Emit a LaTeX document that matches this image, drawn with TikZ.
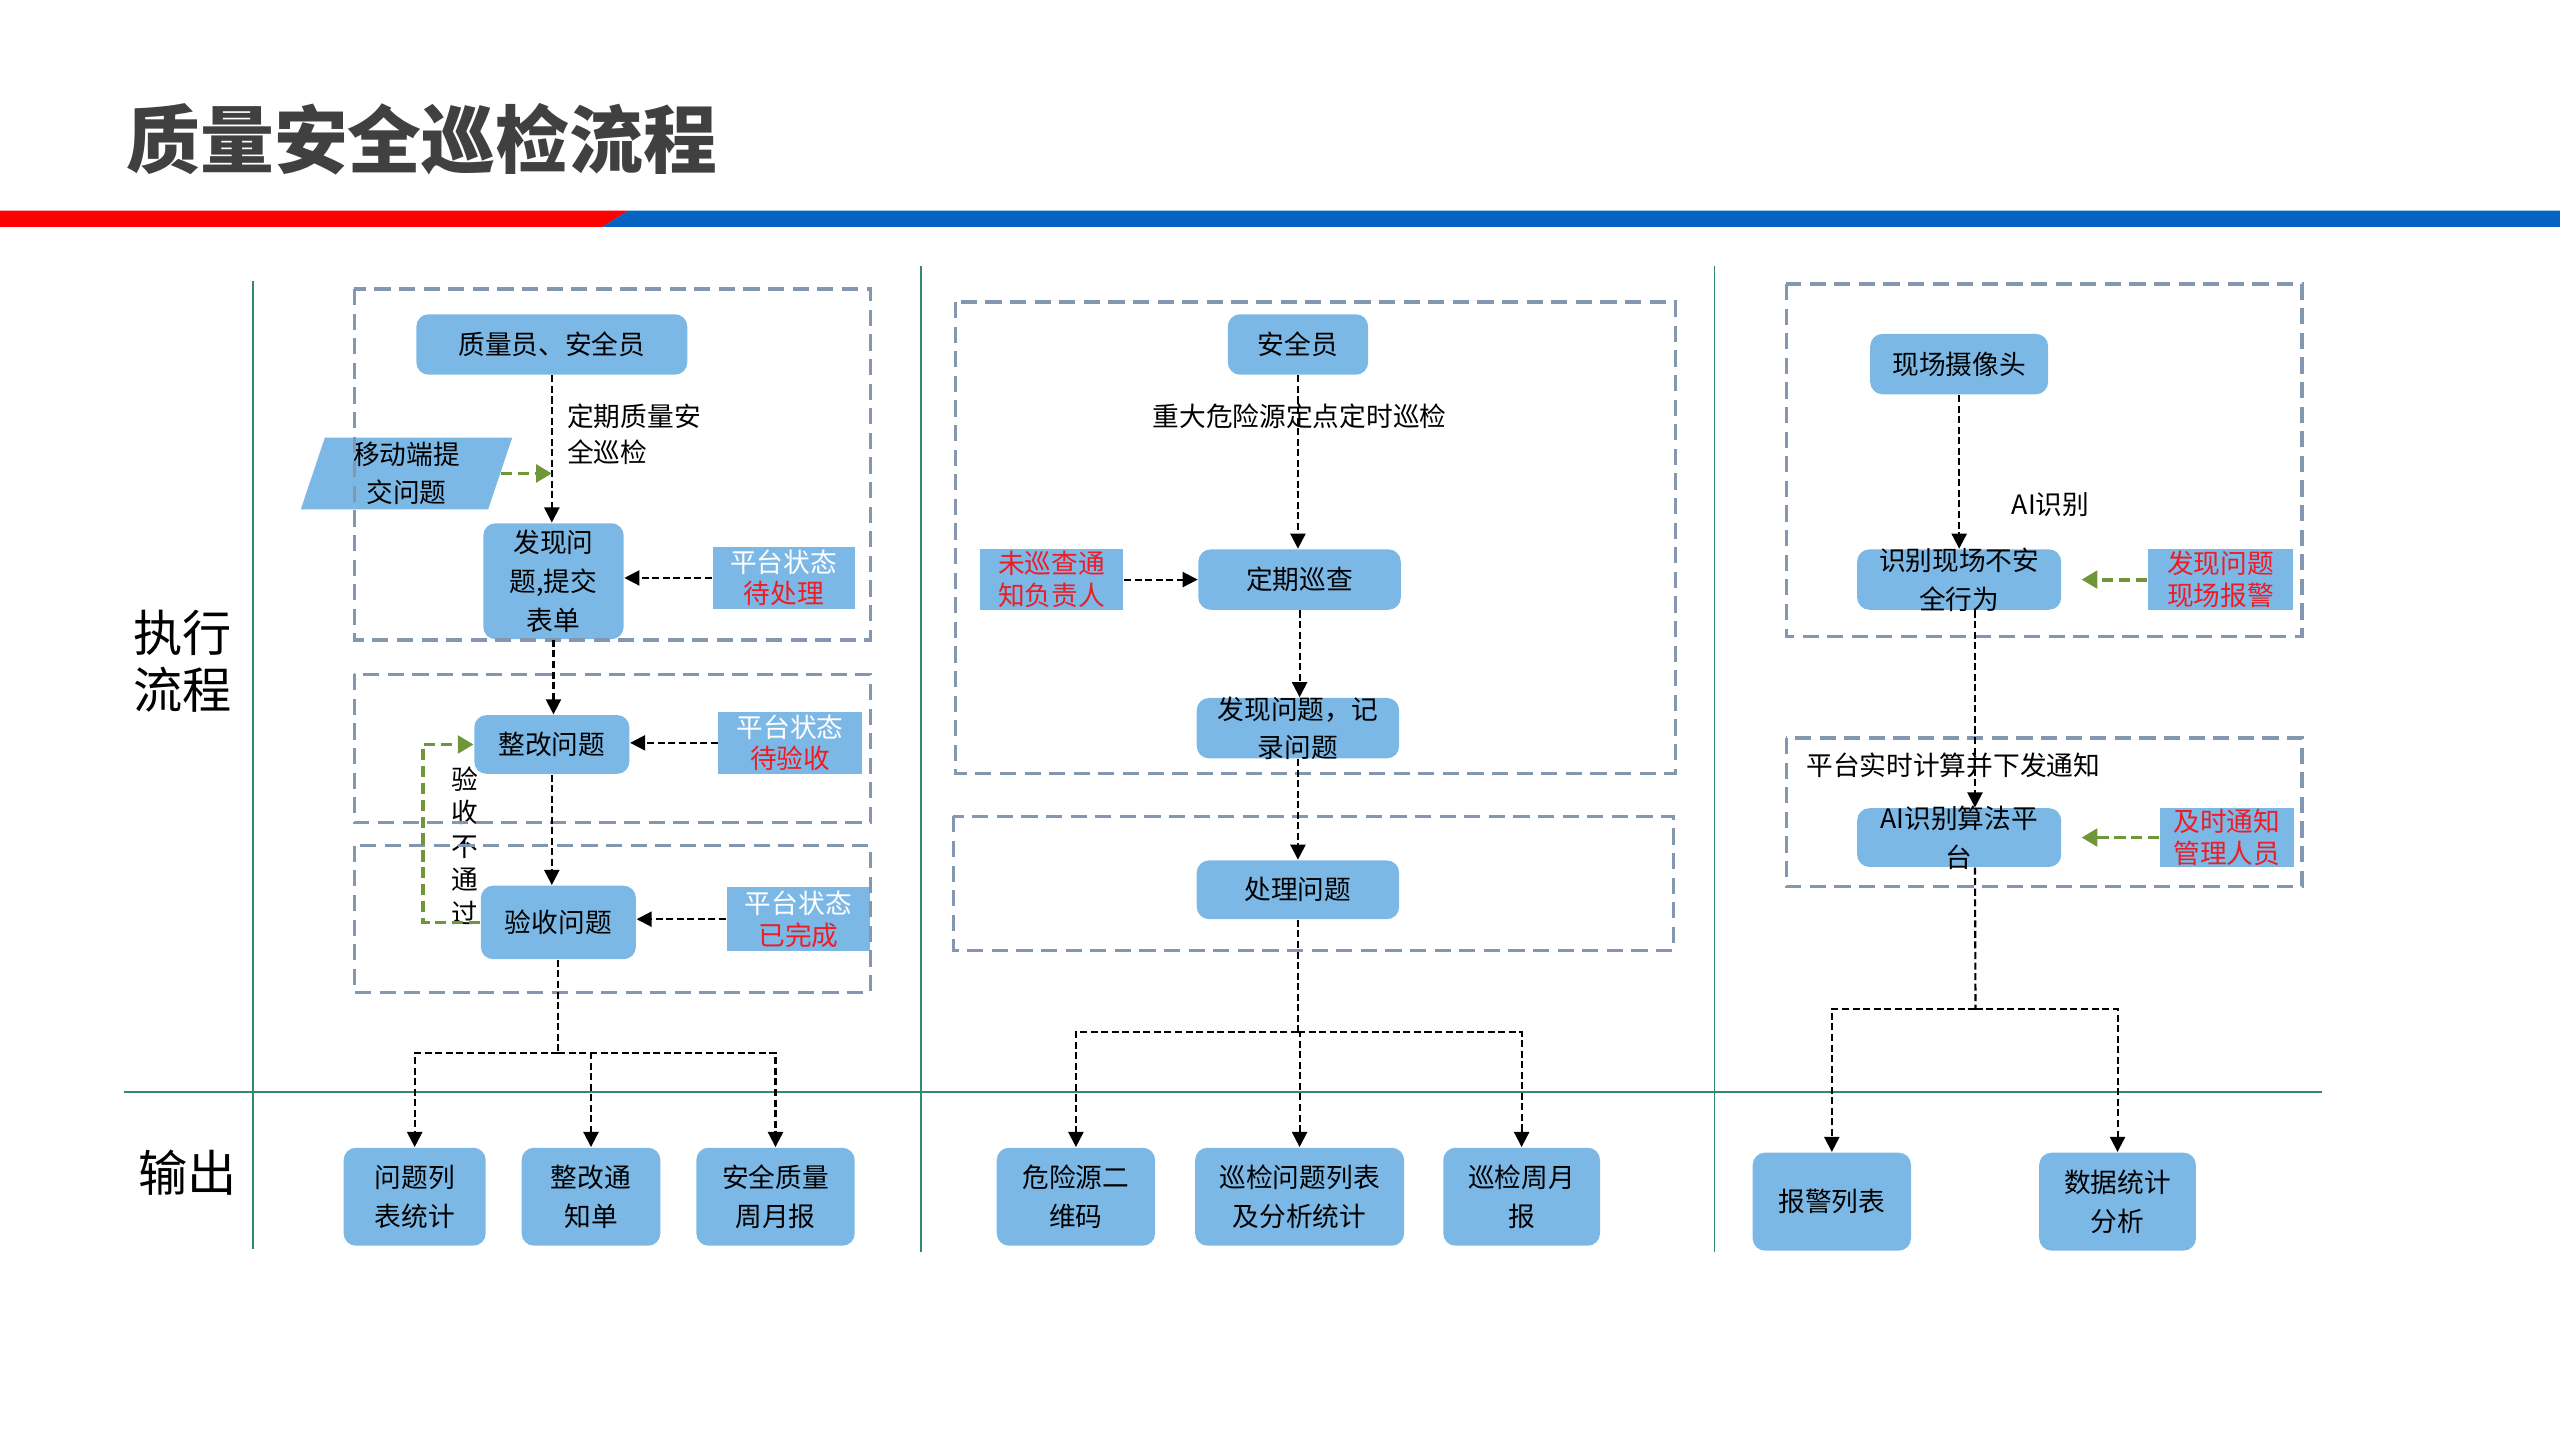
\documentclass[tikz,border=0pt]{standalone}
\usepackage{fontspec}
\setmainfont{Noto Sans CJK SC}
\usepackage{tikz}
\usetikzlibrary{arrows.meta,shapes.geometric,positioning}
\definecolor{boxblue}{HTML}{7CB8E6}
\definecolor{grpgrey}{HTML}{8497B0}
\definecolor{arrgreen}{HTML}{70963A}
\definecolor{alarmred}{HTML}{EE1C25}
\definecolor{lanegreen}{HTML}{2E8B72}
\definecolor{hdred}{HTML}{FF0000}
\definecolor{hdblue}{HTML}{0563C1}
\definecolor{titlegrey}{HTML}{404040}
\newdimen\pxu \pxu=0.16327mm
\newcommand\nodefont{\fontsize{7.6}{11}\selectfont}
\newcommand\statfont{\fontsize{7.6}{9}\selectfont}
\newcommand\statetext[2]{\textcolor{white}{#1}\\\textcolor{alarmred}{#2}}
\tikzset{
	proc/.style={fill=boxblue, rounded corners=3.5pt, inner sep=0pt, align=center, font=\nodefont},
	stat/.style={fill=boxblue, inner sep=0pt, align=center, font=\statfont},
	sz/.style 2 args={minimum width=#1*\pxu, minimum height=#2*\pxu},
	grp/.style={draw=grpgrey, line width=0.9pt, dash pattern=on 4.6pt off 2.4pt},
	ln/.style={draw, line width=0.6pt, dash pattern=on 2pt off 1pt},
	ar/.style={ln, -{Triangle[length=4.3pt,width=4.3pt]}},
	gar/.style={draw=arrgreen, line width=1.1pt, dash pattern=on 3.2pt off 1.6pt,
		-{Triangle[length=4.5pt,width=5pt]}},
	lane/.style={draw=lanegreen, line width=0.45pt},
	lbl/.style={inner sep=0pt, font=\nodefont}
}

\begin{document}
\begin{tikzpicture}[x=0.16327mm, y=-0.16327mm]
	\useasboundingbox (0,0) rectangle (1568,882);
	% header
	\node[anchor=west, inner sep=0pt, text=titlegrey, font=\fontsize{21}{21}\selectfont\bfseries] (ttl) at (77,85) {质量安全巡检流程};
	\fill[hdred] (0,129) -- (385,129) -- (369,139) -- (0,139) -- cycle;
	\fill[hdblue] (385,129) -- (1568,129) -- (1568,139) -- (369,139) -- cycle;
	% lanes
	\draw[lane] (155,172) -- (155,765);
	\draw[lane] (564,163) -- (564,767);
	\draw[lane] (1050,163) -- (1050,767);
	\draw[lane] (76,669) -- (1422,669);
	\node[inner sep=0pt, align=center, font=\fontsize{14}{16}\selectfont] (exec) at (112,405) {执行\\流程};
	\node[inner sep=0pt, font=\fontsize{14}{16}\selectfont] (outp) at (115,718) {输出};

	% quality and safety inspection
	\node[proc, sz={166}{37}] (qs) at (338,211) {质量员、安全员};
	\node[trapezium, trapezium left angle=76, trapezium right angle=104, trapezium stretches=true,
		fill=boxblue, inner sep=0pt, align=center, font=\nodefont, sz={130}{44}] (mob) at (249,290) {移动端提\\交问题};
	\node[proc, sz={86}{71}] (fx) at (339,356) {发现问\\题,提交\\表单};
	\node[stat, sz={87}{38}] (st1) at (480,354) {\statetext{平台状态}{待处理}};
	\node[proc, sz={95}{36}] (zg) at (338,456) {整改问题};
	\node[stat, sz={88}{38}] (st2) at (484,455) {\statetext{平台状态}{待验收}};
	\node[proc, sz={95}{45}] (ys) at (342,565) {验收问题};
	\node[stat, sz={88}{39}] (st3) at (489,563) {\statetext{平台状态}{已完成}};
	\node[lbl, anchor=west, align=left, font=\fontsize{7.6}{10}\selectfont] (lq) at (347,266) {定期质量安\\全巡检};
	\node[lbl, align=center, font=\fontsize{7.6}{9.5}\selectfont] (lf) at (285,518) {验\\收\\不\\通\\过};
	\node[proc, sz={87}{60}] (o1) at (254,733) {问题列\\表统计};
	\node[proc, sz={85}{60}] (o2) at (362,733) {整改通\\知单};
	\node[proc, sz={97}{60}] (o3) at (475,733) {安全质量\\周月报};
	\draw[grp] (217,177) rectangle (533,392);
	\draw[grp] (217,413) rectangle (533,504);
	\draw[grp] (217,518) rectangle (533,608);

	\draw[ar] (qs.south) -- (qs.south |- fx.north);
	\draw[gar] (mob.east) -- (mob.east -| qs.south);
	\draw[ar] (st1.west) -- (st1.west -| fx.east);
	\draw[ar] (fx.south) -- (fx.south |- zg.north);
	\draw[ar] (st2.west) -- (st2.west -| zg.east);
	\draw[ar] (zg.south) -- (zg.south |- ys.north);
	\draw[ar] (st3.west) -- (st3.west -| ys.east);
	\draw[gar] (ys.west) -- ++(-35,0) |- (zg.west);
	\coordinate (t1) at (342,645);
	\draw[ln] (ys.south) -- (t1);
	\draw[ar] (t1) -| (o1);
	\draw[ar] (t1) -| (o2);
	\draw[ar] (t1) -| (o3);

	% hazard source patrol
	\node[proc, sz={86}{37}] (aq) at (795,211) {安全员};
	\node[lbl] (lz) at (796,255) {重大危险源定点定时巡检};
	\node[proc, sz={124}{37}] (dq) at (796,355) {定期巡查};
	\node[stat, sz={88}{37}, text=alarmred] (wx) at (644,355) {未巡查通\\知负责人};
	\node[proc, sz={124}{37}, inner ysep=-4pt] (fx2) at (795,446) {发现问题，记\\录问题};
	\node[proc, sz={124}{36}] (cl) at (795,545) {处理问题};
	\node[proc, sz={97}{60}] (o4) at (659,733) {危险源二\\维码};
	\node[proc, sz={128}{60}] (o5) at (796,733) {巡检问题列表\\及分析统计};
	\node[proc, sz={96}{60}] (o6) at (932,733) {巡检周月\\报};
	\draw[grp] (585,185) rectangle (1026,474);
	\draw[grp] (584,500) rectangle (1025,582);

	\draw[ar] (aq.south) -- (aq.south |- dq.north);
	\draw[ar] (wx.east) -- (dq.west);
	\draw[ar] (dq.south) -- (dq.south |- fx2.north);
	\draw[ar] (fx2.south) -- (fx2.south |- cl.north);
	\coordinate (t2) at (795,632);
	\draw[ln] (cl.south) -- (t2);
	\draw[ar] (t2) -| (o4);
	\draw[ar] (t2) -| (o5);
	\draw[ar] (t2) -| (o6);

	% camera recognition
	\node[proc, sz={109}{37}] (cam) at (1200,223) {现场摄像头};
	\node[lbl] (lai) at (1256,309) {AI识别};
	\node[proc, sz={125}{37}, inner ysep=-4pt] (sb) at (1200,355) {识别现场不安\\全行为};
	\node[stat, sz={89}{37}, text=alarmred] (al) at (1360,355) {发现问题\\现场报警};
	\node[lbl, anchor=west] (lpt) at (1106,469) {平台实时计算并下发通知};
	\node[proc, sz={125}{36}, inner ysep=-4pt] (pf) at (1200,513) {AI识别算法平\\台};
	\node[stat, sz={82}{36}, text=alarmred] (nt) at (1364,513) {及时通知\\管理人员};
	\node[proc, sz={97}{60}] (o7) at (1122,736) {报警列表};
	\node[proc, sz={96}{60}] (o8) at (1297,736) {数据统计\\分析};
	\draw[grp] (1094,174) rectangle (1410,390);
	\draw[grp] (1094,452) rectangle (1410,543);

	\draw[ar] (cam.south) -- (cam.south |- sb.north);
	\draw[gar, shorten >=5.6pt] (al.west) -- (al.west -| sb.east);
	\draw[ar] ([xshift=4.5pt]sb.south) -- ([xshift=4.5pt]sb.south |- pf.north);
	\draw[gar, shorten >=5.6pt] (nt.west) -- (nt.west -| pf.east);
	\coordinate (t3) at (1210,618);
	\draw[ln] ([xshift=4.5pt]pf.south) -- (t3);
	\draw[ar] (t3) -| (o7);
	\draw[ar] (t3) -| (o8);
\end{tikzpicture}
\end{document}
